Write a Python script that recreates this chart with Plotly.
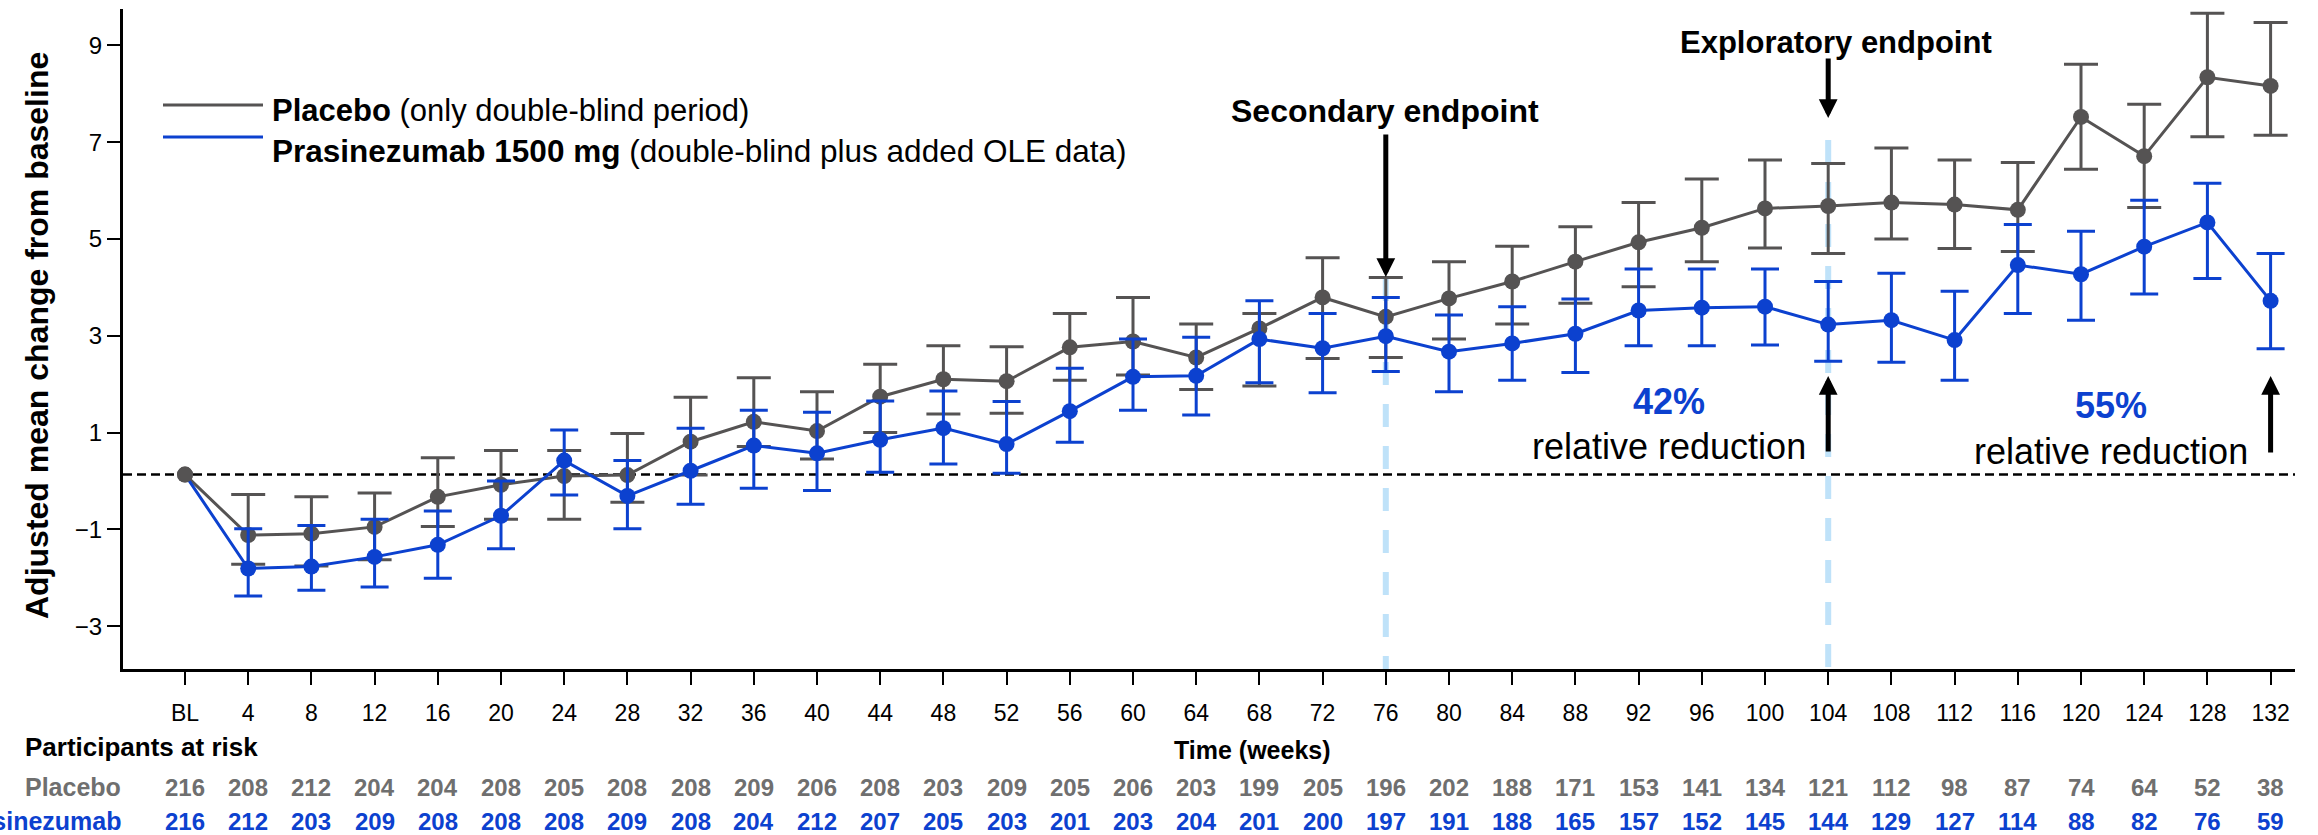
import numpy as np
import plotly.graph_objects as go

# ---------------- data ----------------
weeks = list(range(0, 133, 4))
week_labels = ["BL"] + [str(w) for w in weeks[1:]]
y_ticks = [-3, -1, 1, 3, 5, 7, 9]

placebo_mean = [0.13, -1.12, -1.09, -0.95, -0.33, -0.08, 0.10, 0.12, 0.81, 1.22,
                1.03, 1.74, 2.10, 2.06, 2.76, 2.88, 2.55, 3.15, 3.79, 3.39,
                3.77, 4.12, 4.53, 4.93, 5.23, 5.63, 5.68, 5.75, 5.71, 5.60,
                7.52, 6.71, 8.34, 8.16]
placebo_upper = [None, -0.28, -0.33, -0.25, 0.48, 0.63, 0.63, 0.98, 1.73, 2.13,
                 1.84, 2.41, 2.79, 2.77, 3.46, 3.79, 3.24, 3.46, 4.61, 4.20,
                 4.53, 4.85, 5.25, 5.75, 6.24, 6.63, 6.56, 6.88, 6.63, 6.58,
                 8.61, 7.78, 9.66, 9.47]
placebo_lower = [None, -1.72, -1.76, -1.63, -0.94, -0.79, -0.79, -0.44, 0.12, 0.71,
                 0.45, 1.00, 1.38, 1.40, 2.08, 2.19, 1.89, 1.96, 2.53, 2.55,
                 2.93, 3.24, 3.67, 4.01, 4.53, 4.81, 4.70, 5.00, 4.80, 4.74,
                 6.44, 5.65, 7.11, 7.14]

pras_mean = [0.13, -1.81, -1.77, -1.57, -1.32, -0.72, 0.42, -0.31, 0.21, 0.73,
             0.57, 0.85, 1.09, 0.76, 1.44, 2.15, 2.17, 2.93, 2.74, 2.99,
             2.67, 2.84, 3.04, 3.52, 3.58, 3.60, 3.23, 3.32, 2.91, 4.46,
             4.27, 4.84, 5.34, 3.72]
pras_upper = [None, -0.99, -0.92, -0.79, -0.62, 0.00, 1.05, 0.42, 1.09, 1.46,
              1.42, 1.65, 1.86, 1.64, 2.33, 2.93, 2.97, 3.72, 3.46, 3.79,
              3.43, 3.60, 3.76, 4.38, 4.38, 4.38, 4.12, 4.29, 3.92, 5.30,
              5.16, 5.80, 6.15, 4.70]
pras_lower = [None, -2.38, -2.26, -2.19, -2.01, -1.40, -0.29, -0.99, -0.48, -0.15,
              -0.20, 0.18, 0.35, 0.16, 0.80, 1.46, 1.36, 2.03, 1.82, 2.26,
              1.84, 2.08, 2.24, 2.79, 2.79, 2.81, 2.47, 2.45, 2.08, 3.46,
              3.32, 3.86, 4.18, 2.73]

placebo_n = [216, 208, 212, 204, 204, 208, 205, 208, 208, 209, 206, 208, 203, 209, 205, 206, 203,
             199, 205, 196, 202, 188, 171, 153, 141, 134, 121, 112, 98, 87, 74, 64, 52, 38]
pras_n = [216, 212, 203, 209, 208, 208, 208, 209, 208, 204, 212, 207, 205, 203, 201, 203, 204,
          201, 200, 197, 191, 188, 165, 157, 152, 145, 144, 129, 127, 114, 88, 82, 76, 59]

secondary_week = 76
exploratory_week = 104
last_week = 132

# ---------------- style / layout helpers ----------------
W, H = 2318, 835
PL, PR, PT, PB = 123, 2295, 9, 669


def fx(px):
    return (px - PL) / (PR - PL)


def fy(py):
    return (PB - py) / (PB - PT)


GREY = "#555353"
GREY_TXT = "#6f6f6f"
BLUE = "#0c41cf"
LIGHT_BLUE = "#bfe2f9"
FONT = "Liberation Sans, Arial, Helvetica, sans-serif"


def err(upper, mean, lower):
    plus = np.array([np.nan if u is None else u - m for u, m in zip(upper, mean)], dtype=float)
    minus = np.array([np.nan if l is None else m - l for l, m in zip(lower, mean)], dtype=float)
    return plus, minus


pl_plus, pl_minus = err(placebo_upper, placebo_mean, placebo_lower)
pr_plus, pr_minus = err(pras_upper, pras_mean, pras_lower)

fig = go.Figure()
fig.add_trace(go.Scatter(
    x=weeks, y=placebo_mean, mode="lines+markers",
    line=dict(color=GREY, width=3),
    marker=dict(color=GREY, size=16),
    error_y=dict(type="data", array=pl_plus, arrayminus=pl_minus, symmetric=False,
                 color=GREY, thickness=3, width=17),
    showlegend=False, cliponaxis=False,
))
pras_marker_colors = [GREY] + [BLUE] * (len(weeks) - 1)
fig.add_trace(go.Scatter(
    x=weeks, y=pras_mean, mode="lines+markers",
    line=dict(color=BLUE, width=3),
    marker=dict(color=pras_marker_colors, size=16),
    error_y=dict(type="data", array=pr_plus, arrayminus=pr_minus, symmetric=False,
                 color=BLUE, thickness=3, width=14),
    showlegend=False, cliponaxis=False,
))

shapes = [
    # baseline reference
    dict(type="line", xref="paper", x0=0, x1=1, yref="y", y0=placebo_mean[0], y1=placebo_mean[0],
         line=dict(color="black", width=2.5, dash="9px,5px"), layer="below"),
    # endpoint guides
    dict(type="line", xref="x", x0=secondary_week, x1=secondary_week, yref="paper",
         y0=fy(278), y1=0, line=dict(color=LIGHT_BLUE, width=6, dash="23px,19px"), layer="below"),
    dict(type="line", xref="x", x0=exploratory_week, x1=exploratory_week, yref="paper",
         y0=fy(140), y1=0, line=dict(color=LIGHT_BLUE, width=6, dash="23px,19px"), layer="below"),
    # legend samples
    dict(type="line", xref="paper", yref="paper", x0=fx(163), x1=fx(263), y0=fy(105), y1=fy(105),
         line=dict(color=GREY, width=3)),
    dict(type="line", xref="paper", yref="paper", x0=fx(163), x1=fx(263), y0=fy(137), y1=fy(137),
         line=dict(color=BLUE, width=3)),
]

ann = []


def text(x, y, t, size, color="black", xanchor="center", xref="paper", angle=0):
    ann.append(dict(x=x, y=y, xref=xref, yref="paper", text=t, showarrow=False,
                    xanchor=xanchor, yanchor="middle", textangle=angle,
                    font=dict(family=FONT, size=size, color=color)))


def arrow(week, tip_py, tail_py):
    ann.append(dict(x=week, xref="x", y=fy(tip_py), yref="paper", text="", showarrow=True,
                    ax=0, ay=tail_py - tip_py, arrowhead=2, arrowsize=0.75, arrowwidth=5,
                    arrowcolor="black", standoff=0, startstandoff=0))


text(fx(37), fy(336), "<b>Adjusted mean change from baseline</b>", 32, angle=-90)
text(fx(270), fy(110), "<b>Placebo</b> (only double-blind period)", 31, xanchor="left")
text(fx(270), fy(151), "<b>Prasinezumab 1500 mg</b> (double-blind plus added OLE data)", 31.5, xanchor="left")

text(fx(1385), fy(111), "<b>Secondary endpoint</b>", 32)
text(fx(1836), fy(42), "<b>Exploratory endpoint</b>", 31)
text(fx(1669), fy(401), "<b>42%</b>", 36, color=BLUE)
text(fx(1669), fy(447), "relative reduction", 36)
text(fx(2111), fy(405), "<b>55%</b>", 36, color=BLUE)
text(fx(2111), fy(451), "relative reduction", 36)

arrow(secondary_week, 277, 133)
arrow(exploratory_week, 118, 57)
arrow(exploratory_week, 376, 453)
arrow(last_week, 376, 454)

text(fx(23), fy(747), "<b>Participants at risk</b>", 26, xanchor="left")
text(fx(1252), fy(750), "<b>Time (weeks)</b>", 25)
text(fx(123), fy(787), "<b>Placebo</b>", 25, color=GREY_TXT, xanchor="right")
text(fx(124), fy(821), "<b>Prasinezumab</b>", 25, color=BLUE, xanchor="right")
for w, n in zip(weeks, placebo_n):
    text(w, fy(787), f"<b>{n}</b>", 24, color=GREY_TXT, xref="x")
for w, n in zip(weeks, pras_n):
    text(w, fy(821), f"<b>{n}</b>", 24, color=BLUE, xref="x")

x_lo = 0 - (185 - PL) / 15.8
x_hi = 132 + (PR - 2270.6) / 15.8
y_lo = 1 - (PB - 432.5) / 48.4
y_hi = 1 + (432.5 - PT) / 48.4

fig.update_layout(
    width=W, height=H,
    margin=dict(l=PL, r=W - PR, t=PT, b=H - PB, pad=0),
    paper_bgcolor="white", plot_bgcolor="white",
    font=dict(family=FONT, color="black"),
    shapes=shapes, annotations=ann,
    xaxis=dict(range=[x_lo, x_hi], tickmode="array", tickvals=weeks, ticktext=week_labels,
               ticks="outside", ticklen=13, tickwidth=2, tickcolor="black",
               showline=True, linecolor="black", linewidth=3, showgrid=False, zeroline=False,
               tickfont=dict(size=23, family=FONT, color="black"), ticklabelstandoff=8),
    yaxis=dict(range=[y_lo, y_hi], tickmode="array", tickvals=y_ticks,
               ticks="outside", ticklen=13, tickwidth=2, tickcolor="black",
               showline=True, linecolor="black", linewidth=3, showgrid=False, zeroline=False,
               tickfont=dict(size=24, family=FONT, color="black")),
)

fig.write_html("out.html")
